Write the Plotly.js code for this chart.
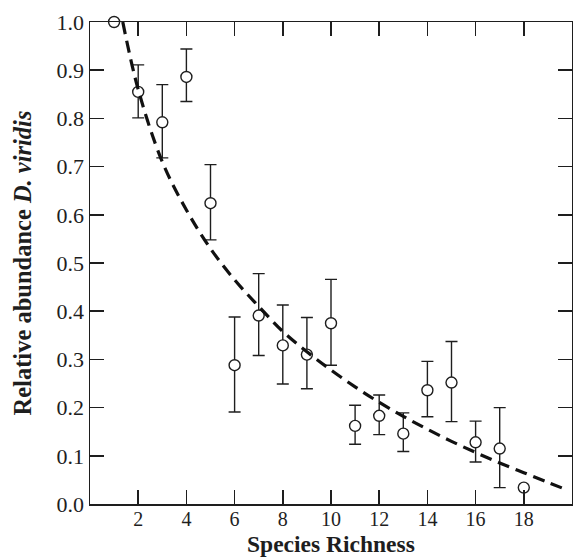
<!DOCTYPE html>
<html>
<head>
<meta charset="utf-8">
<script src="https://cdn.plot.ly/plotly-3.0.1.min.js"></script>
<style>
html,body{margin:0;padding:0;background:#fff;}
#chart{width:573px;height:559px;}
</style>
</head>
<body>
<div id="chart"></div>
<script>
const richness = [1, 2, 3, 4, 5, 6, 7, 8, 9, 10, 11, 12, 13, 14, 15, 16, 17, 18];
const abundance = [1.0, 0.855, 0.792, 0.886, 0.624, 0.288, 0.391, 0.329, 0.310, 0.375, 0.162, 0.183, 0.146, 0.236, 0.252, 0.128, 0.115, 0.034];
const upper = [null, 0.911, 0.870, 0.944, 0.704, 0.388, 0.478, 0.413, 0.387, 0.466, 0.205, 0.226, 0.189, 0.296, 0.337, 0.172, 0.200, null];
const lower = [null, 0.801, 0.718, 0.835, 0.548, 0.191, 0.308, 0.249, 0.239, 0.288, 0.124, 0.144, 0.109, 0.181, 0.171, 0.087, 0.034, null];

// Fitted curve
const fitX = [1.36, 2, 3, 4, 5, 6, 7, 8, 9, 10, 11, 12, 13, 14, 15, 16, 17, 18, 19, 19.7];
const fitY = [1.0, 0.86, 0.71, 0.61, 0.53, 0.465, 0.41, 0.358, 0.316, 0.278, 0.243, 0.211, 0.182, 0.155, 0.13, 0.107, 0.085, 0.065, 0.045, 0.031];

const xTicks = [2, 4, 6, 8, 10, 12, 14, 16, 18];
const yTicks = [0, 0.1, 0.2, 0.3, 0.4, 0.5, 0.6, 0.7, 0.8, 0.9, 1.0];

const ink = '#1e1e1e';
const serif = 'Liberation Serif, Times New Roman, serif';
const errPlus = upper.map((u, i) => u == null ? NaN : u - abundance[i]);
const errMinus = lower.map((l, i) => l == null ? NaN : abundance[i] - l);

const traces = [
  {
    x: richness, y: abundance, type: 'scatter', mode: 'markers',
    marker: {symbol: 'circle', size: 11, color: '#ffffff', line: {color: ink, width: 1.4}},
    error_y: {type: 'data', symmetric: false, array: errPlus, arrayminus: errMinus,
              color: ink, thickness: 1.4, width: 6},
    cliponaxis: false, showlegend: false, hoverinfo: 'x+y'
  },
  {
    x: fitX, y: fitY, type: 'scatter', mode: 'lines',
    line: {color: '#111111', width: 3.2, dash: '12px,7px', shape: 'spline'},
    showlegend: false, hoverinfo: 'skip'
  }
];

const axisCommon = {
  showgrid: false, zeroline: false, showline: true, linecolor: ink, linewidth: 1.5,
  mirror: 'ticks', ticks: 'inside', tickcolor: ink, tickwidth: 1.5
};

const layout = {
  width: 573, height: 559,
  margin: {l: 90, r: 1, t: 22, b: 55},
  paper_bgcolor: '#ffffff', plot_bgcolor: '#ffffff',
  font: {family: serif, color: ink},
  xaxis: Object.assign({}, axisCommon, {
    range: [0, 20], tickvals: xTicks, ticklen: 14,
    tickfont: {family: serif, size: 20, color: ink},
    ticklabelstandoff: -4
  }),
  yaxis: Object.assign({}, axisCommon, {
    range: [0, 1.0], tickvals: yTicks, tickformat: '.1f', ticklen: 14,
    tickfont: {family: serif, size: 22, color: ink},
    title: {text: '<b>Relative abundance <i>D. viridis</i></b>', font: {size: 24.5, family: serif, color: ink}, standoff: 18}
  }),
  annotations: [{
    text: '<b>Species Richness</b>', xref: 'paper', yref: 'paper', x: 0.5, y: 0,
    xanchor: 'center', yanchor: 'bottom', yshift: -55, showarrow: false,
    font: {size: 23.5, family: serif, color: ink}
  }]
};

Plotly.newPlot('chart', traces, layout, {staticPlot: true, displayModeBar: false});
</script>
</body>
</html>
